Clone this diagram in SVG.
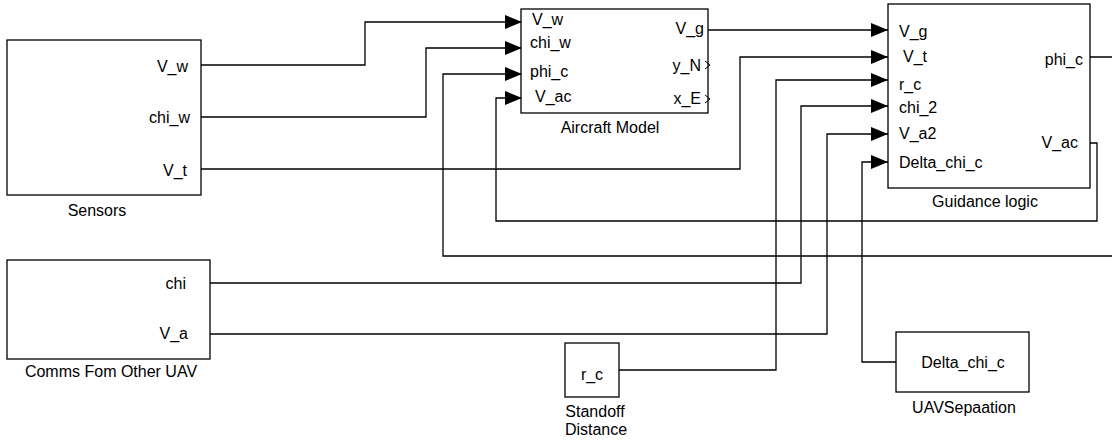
<svg xmlns="http://www.w3.org/2000/svg" width="1112" height="441" viewBox="0 0 1112 441">
<style>
.blk{fill:#fff;stroke:#000;stroke-width:1.3}
.t{font-family:"Liberation Sans",Arial,sans-serif;font-size:16px;fill:#000}
.e{text-anchor:end}
.m{text-anchor:middle}
.w{fill:none;stroke:#000;stroke-width:1.3}
.ar{marker-end:url(#arr)}
.chev{fill:none;stroke:#000;stroke-width:1}
</style>
<defs>
<marker id="arr" viewBox="0 0 17 14" refX="17" refY="7" markerUnits="userSpaceOnUse" markerWidth="17" markerHeight="14" orient="auto">
<path d="M0,0 L17,7 L0,14 z" fill="#000"/>
</marker>
</defs>
<rect width="1112" height="441" fill="#fff"/>
<g id="connectors">
<path class="w ar" d="M201,65 H365 V22 H522"/>
<path class="w ar" d="M201,117 H426 V48 H522"/>
<path class="w ar" d="M201,169 H740 V57 H888"/>
<path class="w ar" d="M708,30 H888"/>
<path class="w ar" d="M1090,57 H1120 V256 H443 V74 H522"/>
<path class="w ar" d="M1090,143 H1097 V221 H496 V98 H522"/>
<path class="w ar" d="M210,283 H801 V106 H888"/>
<path class="w ar" d="M210,334 H827 V134 H888"/>
<path class="w ar" d="M619,370 H776 V80 H888"/>
<path class="w ar" d="M896,362 H862 V162 H888"/>
</g>
<g id="sensors">
<rect class="blk" x="7" y="40" width="194" height="155"/>
<text class="t e" x="188" y="72">V_w</text>
<text class="t e" x="190" y="123">chi_w</text>
<text class="t e" x="187" y="176">V_t</text>
<text class="t m" x="97" y="216">Sensors</text>
</g>
<g id="aircraft_model">
<rect class="blk" x="521" y="9" width="187" height="104"/>
<text class="t" x="532" y="25">V_w</text>
<text class="t" x="530" y="48">chi_w</text>
<text class="t" x="530" y="77">phi_c</text>
<text class="t" x="535" y="102">V_ac</text>
<text class="t e" x="704" y="34">V_g</text>
<text class="t e" x="701" y="71">y_N</text>
<text class="t e" x="701" y="104">x_E</text>
<path class="chev" d="M705,61 L710,65 L705,69"/>
<path class="chev" d="M705,95 L710,99 L705,103"/>
<text class="t m" x="610" y="133">Aircraft Model</text>
</g>
<g id="guidance_logic">
<rect class="blk" x="888" y="4" width="202" height="184"/>
<text class="t" x="899" y="37">V_g</text>
<text class="t" x="903" y="62">V_t</text>
<text class="t" x="899" y="90">r_c</text>
<text class="t" x="899" y="113">chi_2</text>
<text class="t" x="899" y="139">V_a2</text>
<text class="t" x="899" y="168">Delta_chi_c</text>
<text class="t e" x="1083" y="65">phi_c</text>
<text class="t e" x="1078" y="148">V_ac</text>
<text class="t m" x="985" y="207">Guidance logic</text>
</g>
<g id="comms">
<rect class="blk" x="7" y="260" width="203" height="99"/>
<text class="t e" x="186" y="289">chi</text>
<text class="t e" x="188" y="339">V_a</text>
<text class="t m" x="111" y="377">Comms Fom Other UAV</text>
</g>
<g id="standoff_distance">
<rect class="blk" x="565" y="343" width="54" height="54"/>
<text class="t m" x="592" y="380">r_c</text>
<text class="t m" x="595" y="417">Standoff</text>
<text class="t m" x="596" y="435">Distance</text>
</g>
<g id="uav_separation">
<rect class="blk" x="896" y="332" width="133" height="60"/>
<text class="t m" x="963" y="368">Delta_chi_c</text>
<text class="t m" x="964" y="413">UAVSepaation</text>
</g>
</svg>
